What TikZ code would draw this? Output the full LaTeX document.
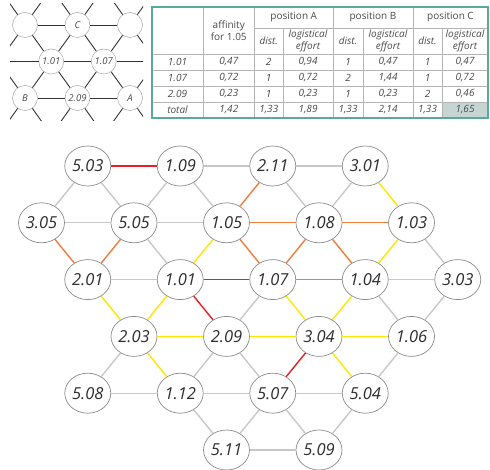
\documentclass[tikz,border=0pt]{standalone}
\usepackage{fontspec}
\setmainfont{Open Sans}
\usetikzlibrary{shapes.geometric}
\definecolor{txt}{HTML}{2E2E2E}
\definecolor{tabtxt}{HTML}{4A4A4A}
\definecolor{cgray}{HTML}{C8C8C8}
\definecolor{cred}{HTML}{E61E25}
\definecolor{corange}{HTML}{F07D3C}
\definecolor{cyellow}{HTML}{FFE600}
\definecolor{tealb}{HTML}{5AA89E}
\definecolor{cellg}{HTML}{C5D6D2}
\definecolor{gridc}{HTML}{B4B4B4}
\newcommand{\cellrow}[9]{%
  \node[tabit] (#1c1) at (177.5,#2) {#3};
  \node[tabit] (#1c2) at (228.75,#2) {#4};
  \node[tabit] (#1c3) at (268.75,#2) {#5};
  \node[tabit] (#1c4) at (308,#2) {#6};
  \node[tabit] (#1c5) at (348,#2) {#7};
  \node[tabit] (#1c6) at (388,#2) {#8};
  \node[tabit] (#1c7) at (427.5,#2) {#9};
}
\begin{document}
\begin{tikzpicture}[x=1pt,y=-1pt,
  hexnode/.style={ellipse,draw=black!45,line width=0.7pt,fill=white,minimum width=46pt,minimum height=40pt,inner sep=0pt,font=\fontsize{16.5}{18}\selectfont\itshape,text=txt},
  gline/.style={draw=cgray,line width=1.4pt},
  rline/.style={draw=cred,line width=1.4pt},
  oline/.style={draw=corange,line width=1.4pt},
  yline/.style={draw=cyellow,line width=1.4pt},
  smallnode/.style={circle,draw=black!35,line width=0.5pt,fill=white,minimum size=25pt,inner sep=0pt,font=\fontsize{9.5}{10}\selectfont\itshape,text=tabtxt},
  insetline/.style={draw=black!80,line width=0.9pt},
  gridline/.style={draw=gridc,line width=0.6pt},
  tabtext/.style={font=\fontsize{10}{12}\selectfont,text=tabtxt,inner sep=0pt,align=center},
  tabit/.style={tabtext,font=\fontsize{10}{12}\selectfont\itshape},
]
\useasboundingbox (0,0) rectangle (490,470);

% ---------------- inset ----------------
\begin{scope}
\clip (10,4) rectangle (143,121);
\coordinate (a1) at (-1.25,-12); \coordinate (a2) at (51.25,-12);
\coordinate (a3) at (103.75,-12); \coordinate (a4) at (156.25,-12);
\coordinate (c1) at (-1.25,61.5); \coordinate (c4) at (156.25,61.5);
\coordinate (e1) at (-1.25,135); \coordinate (e2) at (51.25,135);
\coordinate (e3) at (103.75,135); \coordinate (e4) at (156.25,135);
\node[smallnode] (b1) at (25,25) {};
\node[smallnode] (b2) at (77.5,25) {C};
\node[smallnode] (b3) at (130,25) {};
\node[smallnode] (c2) at (51.25,61.5) {1.01};
\node[smallnode] (c3) at (103.75,61.5) {1.07};
\node[smallnode] (d1) at (25,98) {B};
\node[smallnode] (d2) at (77.5,98) {2.09};
\node[smallnode] (d3) at (130,98) {A};
\draw[insetline] (b1) -- (b2); \draw[insetline] (b2) -- (b3);
\draw[insetline] (c1) -- (c2); \draw[insetline] (c2) -- (c3); \draw[insetline] (c3) -- (c4);
\draw[insetline] (d1) -- (d2); \draw[insetline] (d2) -- (d3);
\draw[insetline] (b1) -- (a1); \draw[insetline] (b1) -- (a2);
\draw[insetline] (b2) -- (a2); \draw[insetline] (b2) -- (a3);
\draw[insetline] (b3) -- (a3); \draw[insetline] (b3) -- (a4);
\draw[insetline] (b1) -- (c1); \draw[insetline] (b1) -- (c2);
\draw[insetline] (b2) -- (c2); \draw[insetline] (b2) -- (c3);
\draw[insetline] (b3) -- (c3); \draw[insetline] (b3) -- (c4);
\draw[insetline] (d1) -- (c1); \draw[insetline] (d1) -- (c2);
\draw[insetline] (d2) -- (c2); \draw[insetline] (d2) -- (c3);
\draw[insetline] (d3) -- (c3); \draw[insetline] (d3) -- (c4);
\draw[insetline] (d1) -- (e1); \draw[insetline] (d1) -- (e2);
\draw[insetline] (d2) -- (e2); \draw[insetline] (d2) -- (e3);
\draw[insetline] (d3) -- (e3); \draw[insetline] (d3) -- (e4);
\end{scope}

% ---------------- table ----------------
\fill[cellg] (442,102) rectangle (488,118);
\foreach \yy in {54,70,86,102} \draw[gridline] (152,\yy) -- (488,\yy);
\draw[gridline] (254.5,28) -- (488,28);
\foreach \xx in {203,254.5,333,413} \draw[gridline] (\xx,7) -- (\xx,118);
\foreach \xx in {283,363,442} \draw[gridline] (\xx,28) -- (\xx,118);
\draw[tealb,line width=2pt] (152,7) rectangle (488,118);

\node[tabtext] (haff) at (228.75,31) {affinity\\for 1.05};
\node[tabtext] (hpa) at (293.75,17.5) {position A};
\node[tabtext] (hpb) at (373,17.5) {position B};
\node[tabtext] (hpc) at (450.5,17.5) {position C};
\node[tabit] (hda) at (268.75,41) {dist.};
\node[tabit] (hdb) at (348,41) {dist.};
\node[tabit] (hdc) at (427.5,41) {dist.};
\node[tabit] (hla) at (308,41) {logistical\\effort};
\node[tabit] (hlb) at (388,41) {logistical\\effort};
\node[tabit] (hlc) at (465,41) {logistical\\effort};

\cellrow{ra}{62}{1.01}{0,47}{2}{0,94}{1}{0,47}{1}
\node[tabit] (rac8) at (465,62) {0,47};
\cellrow{rb}{78}{1.07}{0,72}{1}{0,72}{2}{1,44}{1}
\node[tabit] (rbc8) at (465,78) {0,72};
\cellrow{rc}{94}{2.09}{0,23}{1}{0,23}{1}{0,23}{2}
\node[tabit] (rcc8) at (465,94) {0,46};
\cellrow{rd}{110}{total}{1,42}{1,33}{1,89}{1,33}{2,14}{1,33}
\node[tabit] (rdc8) at (465,110) {1,65};

% ---------------- main graph ----------------
\node[hexnode] (n503) at (87.75,166) {5.03};
\node[hexnode] (n109) at (180.25,166) {1.09};
\node[hexnode] (n211) at (272.75,166) {2.11};
\node[hexnode] (n301) at (365.25,166) {3.01};
\node[hexnode] (n305) at (41.5,222.8) {3.05};
\node[hexnode] (n505) at (134,222.8) {5.05};
\node[hexnode] (n105) at (226.5,222.8) {1.05};
\node[hexnode] (n108) at (319,222.8) {1.08};
\node[hexnode] (n103) at (411.5,222.8) {1.03};
\node[hexnode] (n201) at (87.75,279.6) {2.01};
\node[hexnode] (n101) at (180.25,279.6) {1.01};
\node[hexnode] (n107) at (272.75,279.6) {1.07};
\node[hexnode] (n104) at (365.25,279.6) {1.04};
\node[hexnode] (n303) at (457.75,279.6) {3.03};
\node[hexnode] (n203) at (134,336.4) {2.03};
\node[hexnode] (n209) at (226.5,336.4) {2.09};
\node[hexnode] (n304) at (319,336.4) {3.04};
\node[hexnode] (n106) at (411.5,336.4) {1.06};
\node[hexnode] (n508) at (87.75,393.2) {5.08};
\node[hexnode] (n112) at (180.25,393.2) {1.12};
\node[hexnode] (n507) at (272.75,393.2) {5.07};
\node[hexnode] (n504) at (365.25,393.2) {5.04};
\node[hexnode] (n511) at (226.5,450) {5.11};
\node[hexnode] (n509) at (319,450) {5.09};

\foreach \p/\q in {109/211,211/301,503/305,503/505,109/505,109/105,211/108,301/108,
  305/505,505/105,505/101,103/303,201/101,104/303,107/209,104/106,303/106,
  203/508,209/112,209/507,106/504,508/112,112/507,507/504,112/511,507/511,
  507/509,504/509,511/509}
  \draw[gline] (n\p) -- (n\q);
\foreach \p/\q in {301/103,105/101,103/104,201/203,101/203,107/304,104/304,
  203/209,209/304,304/106,203/112,304/504}
  \draw[yline] (n\p) -- (n\q);
\foreach \p/\q in {211/105,105/108,108/103,305/201,505/201,105/107,108/107,
  108/104,107/104}
  \draw[oline] (n\p) -- (n\q);
\foreach \p/\q in {503/109,101/107,101/209,304/507}
  \draw[rline] (n\p) -- (n\q);
\end{tikzpicture}
\end{document}
